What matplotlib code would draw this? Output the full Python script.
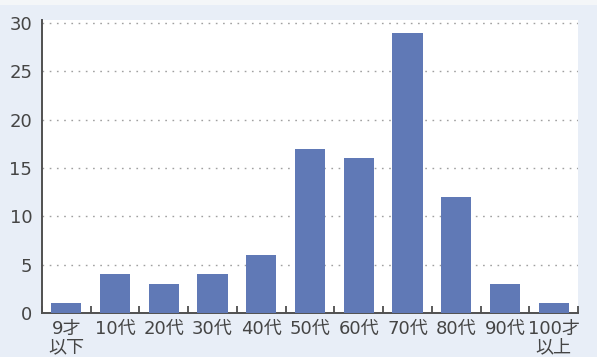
import matplotlib
matplotlib.use("Agg")
import matplotlib.pyplot as plt
from matplotlib.patches import Rectangle
import numpy as np

plt.rcParams['font.family'] = ['DejaVu Sans', 'Noto Sans CJK JP']

categories = ["9才\n以下", "10代", "20代", "30代", "40代", "50代", "60代", "70代", "80代", "90代", "100才\n以上"]
values = [1, 4, 3, 4, 6, 17, 16, 29, 12, 3, 1]
yticks = [0, 5, 10, 15, 20, 25, 30]

bg = "#e8eef7"
bar_color = "#6079b6"
text_color = "#454545"

fig = plt.figure(figsize=(5.97, 3.57), dpi=100, facecolor=bg)
fig.patches.append(Rectangle((0, 1 - 5/357), 1, 5/357, transform=fig.transFigure,
                             facecolor="#f4f6f8", edgecolor="none", zorder=0))
ax = fig.add_axes([42/597, 1 - 313/357, (578 - 42)/597, (313 - 20)/357])
ax.set_facecolor("white")

x = np.arange(len(categories))
ax.bar(x, values, width=0.62, color=bar_color, zorder=3)

ax.set_xlim(-0.5, len(categories) - 0.5)
ax.set_ylim(0, 30.3)

ax.set_yticks(yticks)
ax.set_yticklabels([str(v) for v in yticks])
ax.tick_params(axis='y', length=0, pad=7, labelsize=13, labelcolor=text_color)

for v in yticks[1:]:
    ax.axhline(v, color="#a0a0a0", linestyle=(0, (1.2, 4)), linewidth=1.0, zorder=1)

# boundaries as major ticks (no labels), centers as minor ticks with labels
ax.set_xticks(np.arange(len(categories) + 1) - 0.5)
ax.set_xticklabels([])
ax.set_xticks(x, minor=True)
ax.set_xticklabels(categories, minor=True, linespacing=1.0)
ax.tick_params(axis='x', which='major', direction='in', length=5, width=1.2, color="#404040")
ax.tick_params(axis='x', which='minor', length=0, pad=5, labelsize=13, labelcolor=text_color)

for s in ['top', 'right']:
    ax.spines[s].set_visible(False)
for s in ['left', 'bottom']:
    ax.spines[s].set_color("#505050")
    ax.spines[s].set_linewidth(1.4)

fig.savefig("out.png", dpi=100, facecolor=bg)
